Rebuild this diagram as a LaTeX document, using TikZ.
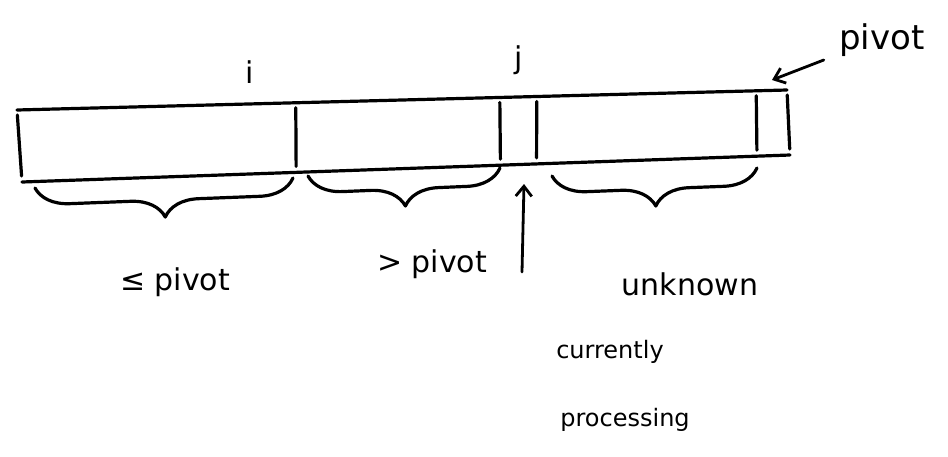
\documentclass[tikz,border=0pt]{standalone}
\usepackage{fontspec}
\setmainfont{DejaVu Sans}
\usetikzlibrary{calc,decorations.pathreplacing,arrows.meta}
\begin{document}
\begin{tikzpicture}[x=1pt,y=-1pt, line width=3.2pt, line cap=round, line join=round,
  lbl/.style={inner sep=0pt, font=\fontsize{30}{32}\selectfont},
  small/.style={inner sep=0pt, font=\fontsize{24}{26}\selectfont},
  bracebox/.style={decorate, decoration={brace, mirror, amplitude=34pt}},
  divider/.style={shorten <=5pt, shorten >=6pt},
  tip/.style={-{Straight Barb[length=10pt,width=16pt]}}]
\useasboundingbox (0,0) rectangle (948,456);
% array outline
\coordinate (TL) at (17,110);
\coordinate (TR) at (787,90);
\coordinate (BL) at (22,182);
\coordinate (BR) at (790,155);
\draw (TL) -- (TR);
\draw (BL) -- (BR);
\draw[divider] (TL) -- (BL);
\draw[divider] (TR) -- (BR);
\draw[divider] ($(TL)!0.362!(TR)$) -- ($(BL)!0.357!(BR)$);
\draw[divider] ($(TL)!0.627!(TR)$) -- ($(BL)!0.623!(BR)$);
\draw[divider] ($(TL)!0.675!(TR)$) -- ($(BL)!0.670!(BR)$);
\draw[divider] ($(TL)!0.960!(TR)$) -- ($(BL)!0.957!(BR)$);
% index labels
\node[lbl] (i) at (250,72) {i};
\node[lbl] (j) at (519,60) {j};
\node[lbl, font=\fontsize{34}{36}\selectfont] (pv) at (882,40) {pivot};
\coordinate (pvtip) at (772,80);
\draw[tip, line width=2.8pt] ($(pv.west)+(-14,20)$) -- (pvtip);
% braces
\coordinate (b1a) at (35,188);
\coordinate (b1b) at (293,178);
\coordinate (b2a) at (308,176);
\coordinate (b2b) at (500,168);
\coordinate (b3a) at (552,176);
\coordinate (b3b) at (757,168);
\draw[bracebox] (b1a) -- (b1b);
\draw[bracebox] (b2a) -- (b2b);
\draw[bracebox] (b3a) -- (b3b);
% region labels
\node[lbl] (le) at (175,282) {≤ pivot};
\node[lbl] (gt) at (432,264) {> pivot};
\node[lbl] (unk) at (690,284) {unknown};
% current element arrow
\coordinate (cur) at (524,184);
\coordinate (curbase) at (522,272);
\draw[tip, line width=2.8pt] (curbase) -- (cur);
\node[small] (cp1) at (610,352) {currently};
\node[small] (cp2) at (625,420) {processing};
\end{tikzpicture}
\end{document}
